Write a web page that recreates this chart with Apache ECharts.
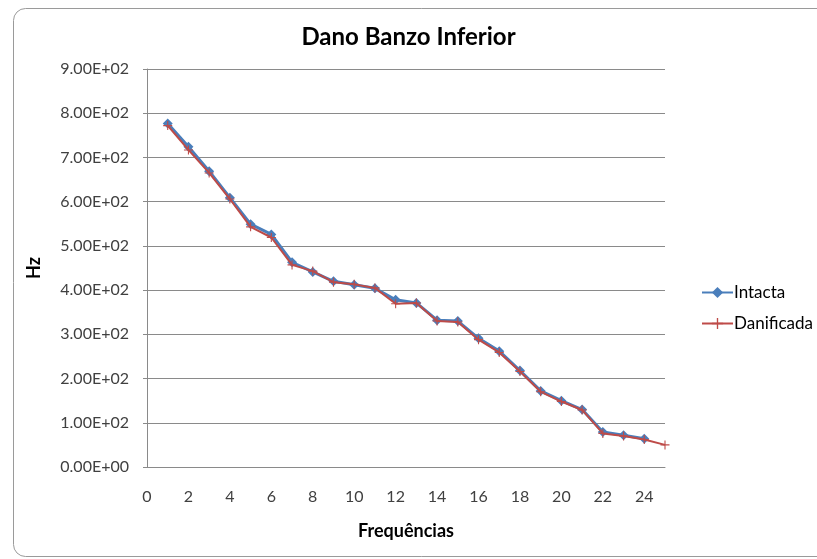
<!DOCTYPE html>
<html>
<head>
<meta charset="utf-8">
<script src="https://cdn.jsdelivr.net/npm/echarts@6/dist/echarts.min.js"></script>
<style>
  html, body { margin: 0; padding: 0; background: #ffffff; }
  #chart { width: 817px; height: 559px; }
</style>
</head>
<body>
<div id="chart"></div>
<script>
// Frequency index (x) for each mode
var intactaX = [1, 2, 3, 4, 5, 6, 7, 8, 9, 10, 11, 12, 13, 14, 15, 16, 17, 18, 19, 20, 21, 22, 23, 24];
var danificadaX = [1, 2, 3, 4, 5, 6, 7, 8, 9, 10, 11, 12, 13, 14, 15, 16, 17, 18, 19, 20, 21, 22, 23, 24, 25];

// Natural frequencies in Hz
var intactaHz = [777, 724, 669, 609, 549, 526, 463, 441, 420, 412, 404, 378, 371, 332, 330, 291, 262, 218, 172, 150, 130, 79, 72, 64];
var danificadaHz = [772, 717, 665, 606, 543, 519, 457, 443, 418, 413, 405, 369, 371, 330, 328, 288, 259, 216, 170, 148, 129, 76, 70, 62, 50];

var seriesNames = ['Intacta', 'Danificada'];
var titleText = 'Dano Banzo Inferior';
var xAxisTitle = 'Frequências';
var yAxisTitle = 'Hz';

function pairs(xs, ys) {
  return xs.map(function (x, i) { return [x, ys[i]]; });
}

// Excel-style scientific notation: 9.00E+02
function sci(v) {
  if (v === 0) return '0.00E+00';
  var e = Math.floor(Math.log10(Math.abs(v)));
  var m = v / Math.pow(10, e);
  var es = (e < 0 ? '-' : '+') + (Math.abs(e) < 10 ? '0' : '') + Math.abs(e);
  return m.toFixed(2) + 'E' + es;
}

var FONT = 'Lato, "Open Sans", sans-serif';
var plusPath = 'path://M0,4.4 H10 V5.6 H0 Z M4.4,0 H5.6 V10 H4.4 Z';

var chart = echarts.init(document.getElementById('chart'), null, { renderer: 'canvas' });
chart.setOption({
  backgroundColor: '#ffffff',
  animation: false,
  graphic: [{
    type: 'rect',
    left: 11, top: 6,
    shape: { width: 830, height: 548, r: 12 },
    style: { fill: 'none', stroke: '#9a9a9a', lineWidth: 1 },
    z: -1
  }],
  title: {
    text: titleText,
    left: 'center',
    top: 20,
    textStyle: { fontFamily: FONT, fontSize: 24, fontWeight: 'bold', color: '#000000' }
  },
  legend: {
    orient: 'vertical',
    left: 696,
    top: 279,
    itemGap: 14,
    itemWidth: 31,
    itemHeight: 14,
    textStyle: { fontFamily: FONT, fontSize: 17, color: '#000000', padding: [0, 0, 0, -4] },
    data: [seriesNames[0], seriesNames[1]]
  },
  grid: { left: 147, right: 152, top: 69, bottom: 92, containLabel: false },
  xAxis: {
    type: 'value',
    min: 0, max: 25, interval: 2,
    name: xAxisTitle,
    nameLocation: 'middle',
    nameGap: 55,
    nameTextStyle: { fontFamily: FONT, fontSize: 18, fontWeight: 'bold', color: '#000000' },
    axisLine: { show: true, lineStyle: { color: '#8a8a8a', width: 1 } },
    axisTick: { show: false },
    splitLine: { show: false },
    axisLabel: { showMaxLabel: false, margin: 22, fontFamily: FONT, fontSize: 16, color: '#404040' }
  },
  yAxis: {
    type: 'value',
    min: 0, max: 900, interval: 100,
    name: yAxisTitle,
    nameLocation: 'middle',
    nameGap: 104,
    nameRotate: 90,
    nameTextStyle: { fontFamily: FONT, fontSize: 18, fontWeight: 'bold', color: '#000000' },
    axisLine: { show: true, lineStyle: { color: '#8a8a8a', width: 1 } },
    axisTick: { show: true, length: 4, lineStyle: { color: '#8a8a8a' } },
    splitLine: { show: true, lineStyle: { color: '#8a8a8a', width: 1 } },
    axisLabel: { formatter: sci, margin: 18, fontFamily: FONT, fontSize: 16, color: '#404040' }
  },
  series: [
    {
      name: seriesNames[0],
      type: 'line',
      data: pairs(intactaX, intactaHz),
      symbol: 'diamond',
      symbolSize: 10,
      lineStyle: { color: '#4a7ebb', width: 3 },
      itemStyle: { color: '#4a7ebb' },
      z: 2
    },
    {
      name: seriesNames[1],
      type: 'line',
      data: pairs(danificadaX, danificadaHz),
      symbol: plusPath,
      symbolSize: 9,
      lineStyle: { color: '#be4b48', width: 2 },
      itemStyle: { color: '#be4b48' },
      z: 3
    }
  ]
});
</script>
</body>
</html>
